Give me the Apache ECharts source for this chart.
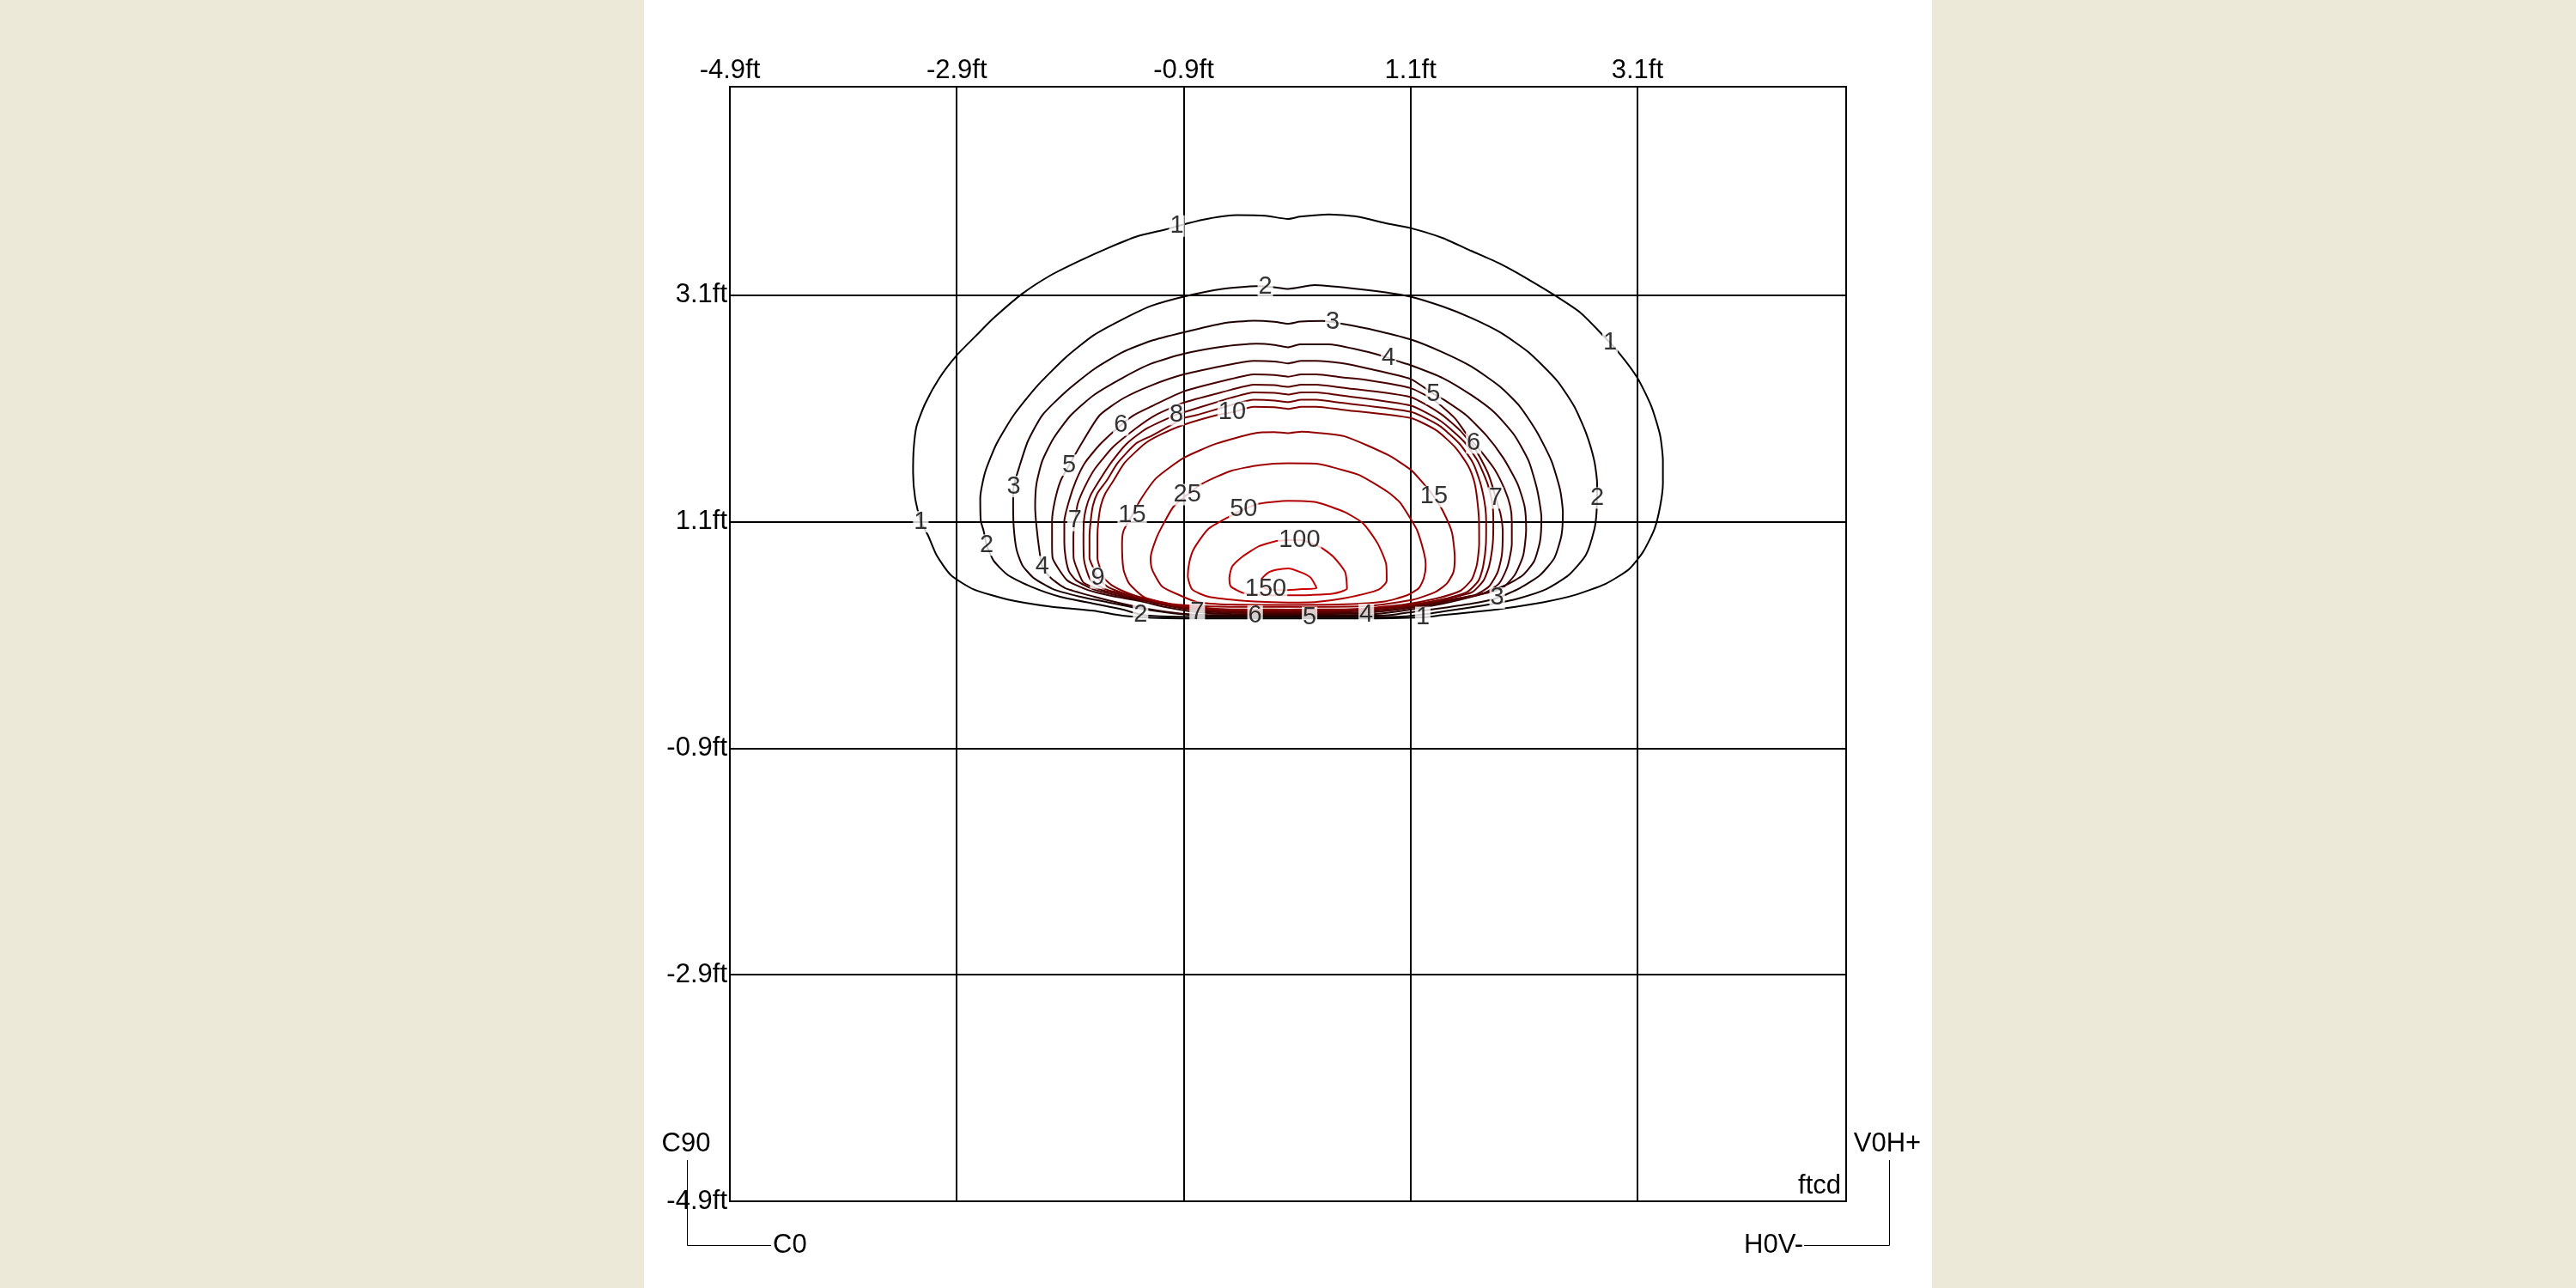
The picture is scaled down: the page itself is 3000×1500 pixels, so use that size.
<!DOCTYPE html>
<html><head><meta charset="utf-8">
<script src="https://cdn.jsdelivr.net/npm/echarts@6/dist/echarts.min.js"></script>
<style>
html,body{margin:0;padding:0;background:#ECE9D8;}
#panel{position:absolute;left:750px;top:0;width:1500px;height:1500px;background:#fff;}
#c{position:absolute;left:0;top:0;width:3000px;height:1500px;}
</style>
</head><body><div id="panel"></div><div id="c"></div>
<script>
// axis: feet, range -4.92 .. 4.92 ft, grid every 2 ft starting at -4.92
const OFFSET = 4.92;
const AXIS_SPAN = 9.84;
const TICK_STEP = 2;

// contour levels (ftcd)
const levels = [1, 2, 3, 4, 5, 6, 7, 8, 9, 10, 15, 25, 50, 100, 150];

// contour polylines, [x ft, y ft]
const c1 = [[0,0.225],[-0.6,0.225],[-1.2,0.232],[-1.461,0.25],[-1.713,0.293],[-2.091,0.33],[-2.469,0.393],[-2.771,0.482],[-2.972,0.608],[-3.098,0.784],[-3.174,0.961],[-3.237,1.079],[-3.287,1.289],[-3.305,1.516],[-3.3,1.718],[-3.275,1.919],[-3.199,2.121],[-3.073,2.348],[-2.919,2.55],[-2.746,2.726],[-2.594,2.878],[-2.343,3.092],[-2.091,3.256],[-1.839,3.382],[-1.587,3.496],[-1.335,3.597],[-1.08,3.66],[-0.88,3.715],[-0.705,3.755],[-0.45,3.786],[-0.2,3.781],[0,3.753],[0.106,3.773],[0.358,3.793],[0.61,3.773],[0.861,3.715],[1.08,3.672],[1.365,3.584],[1.617,3.47],[1.869,3.357],[2.121,3.218],[2.348,3.08],[2.574,2.928],[2.751,2.752],[2.914,2.575],[3.081,2.348],[3.204,2.096],[3.28,1.844],[3.305,1.617],[3.305,1.415],[3.28,1.213],[3.229,1.011],[3.128,0.81],[3.003,0.658],[2.801,0.532],[2.524,0.431],[2.247,0.368],[1.894,0.313],[1.617,0.28],[1.365,0.255],[1.189,0.235],[0.6,0.225],[0,0.225]];
const c2 = [[0,0.236],[-0.6,0.236],[-1.05,0.242],[-1.285,0.258],[-1.461,0.305],[-1.713,0.356],[-2.015,0.419],[-2.267,0.507],[-2.469,0.608],[-2.594,0.734],[-2.657,0.873],[-2.683,0.999],[-2.708,1.087],[-2.713,1.289],[-2.67,1.516],[-2.569,1.768],[-2.418,2.02],[-2.217,2.272],[-1.965,2.525],[-1.713,2.726],[-1.461,2.865],[-1.209,2.984],[-0.919,3.067],[-0.579,3.135],[-0.277,3.16],[-0.126,3.15],[0,3.135],[0.232,3.168],[0.61,3.135],[0.861,3.105],[1.08,3.067],[1.365,2.979],[1.617,2.878],[1.869,2.752],[2.121,2.575],[2.373,2.323],[2.524,2.096],[2.625,1.869],[2.7,1.617],[2.725,1.415],[2.72,1.163],[2.7,1.011],[2.625,0.784],[2.474,0.608],[2.272,0.482],[2.045,0.406],[1.819,0.356],[1.491,0.305],[1.239,0.267],[1.0,0.242],[0.6,0.236],[0,0.236]];
const c3 = [[0,0.245],[-0.6,0.246],[-0.856,0.255],[-1.083,0.28],[-1.335,0.318],[-1.587,0.368],[-1.839,0.419],[-2.066,0.482],[-2.242,0.583],[-2.342,0.696],[-2.393,0.835],[-2.418,1.037],[-2.423,1.238],[-2.418,1.39],[-2.368,1.566],[-2.292,1.793],[-2.166,2.02],[-1.965,2.222],[-1.713,2.424],[-1.461,2.575],[-1.209,2.676],[-0.919,2.752],[-0.579,2.83],[-0.3,2.855],[-0.12,2.845],[0,2.827],[0.106,2.847],[0.307,2.852],[0.471,2.827],[0.736,2.777],[1.08,2.689],[1.365,2.575],[1.617,2.449],[1.869,2.272],[2.045,2.096],[2.196,1.869],[2.322,1.617],[2.398,1.364],[2.423,1.163],[2.411,0.961],[2.348,0.759],[2.222,0.608],[2.045,0.494],[1.844,0.406],[1.617,0.356],[1.365,0.318],[1.113,0.285],[0.9,0.255],[0.6,0.246],[0,0.245]];
const c4 = [[0,0.255],[-0.7,0.256],[-0.957,0.27],[-1.209,0.305],[-1.461,0.356],[-1.713,0.419],[-1.965,0.494],[-2.091,0.583],[-2.166,0.683],[-2.191,0.822],[-2.217,1.037],[-2.229,1.213],[-2.217,1.415],[-2.166,1.617],[-2.066,1.818],[-1.914,2.02],[-1.713,2.197],[-1.461,2.348],[-1.209,2.474],[-0.919,2.562],[-0.579,2.625],[-0.277,2.651],[-0.12,2.64],[0,2.62],[0.106,2.646],[0.358,2.646],[0.61,2.6],[0.824,2.545],[0.962,2.499],[1.08,2.462],[1.365,2.348],[1.617,2.197],[1.819,2.045],[1.995,1.844],[2.121,1.617],[2.196,1.364],[2.234,1.112],[2.222,0.91],[2.171,0.734],[2.071,0.608],[1.919,0.52],[1.668,0.431],[1.365,0.356],[0.987,0.29],[0.69,0.26],[0,0.255]];
const c5 = [[0,0.264],[-0.5,0.265],[-0.8,0.28],[-1.05,0.32],[-1.311,0.38],[-1.564,0.427],[-1.765,0.477],[-1.942,0.558],[-2.02,0.66],[-2.075,0.76],[-2.08,0.886],[-2.08,1.087],[-2.055,1.264],[-2.005,1.44],[-1.929,1.579],[-1.82,1.77],[-1.66,2.02],[-1.45,2.17],[-1.2,2.285],[-0.92,2.38],[-0.5,2.47],[-0.3,2.5],[-0.12,2.495],[0,2.478],[0.12,2.5],[0.25,2.5],[0.464,2.48],[0.715,2.43],[1.08,2.34],[1.282,2.209],[1.37,2.159],[1.57,2.02],[1.747,1.843],[1.898,1.642],[2.023,1.415],[2.086,1.213],[2.099,1.011],[2.074,0.785],[1.998,0.608],[1.872,0.482],[1.6,0.42],[1.3,0.36],[1.0,0.31],[0.7,0.275],[0.3,0.265],[0,0.264]];
const c6 = [[0,0.273],[-0.45,0.275],[-0.75,0.29],[-1.0,0.325],[-1.261,0.38],[-1.513,0.43],[-1.715,0.482],[-1.866,0.56],[-1.93,0.64],[-1.96,0.76],[-1.972,0.9],[-1.972,1.08],[-1.93,1.264],[-1.87,1.44],[-1.79,1.6],[-1.65,1.77],[-1.474,1.932],[-1.36,2.02],[-1.2,2.1],[-0.92,2.23],[-0.5,2.34],[-0.3,2.38],[-0.12,2.375],[0,2.36],[0.12,2.38],[0.25,2.38],[0.464,2.355],[0.715,2.328],[1.08,2.26],[1.294,2.147],[1.47,1.995],[1.571,1.856],[1.636,1.775],[1.709,1.692],[1.822,1.541],[1.91,1.365],[1.96,1.213],[1.973,1.08],[1.973,0.886],[1.935,0.684],[1.86,0.533],[1.722,0.445],[1.45,0.385],[1.15,0.33],[0.8,0.29],[0.4,0.274],[0,0.273]];
const c7 = [[0,0.282],[-0.4,0.284],[-0.7,0.295],[-1.0,0.33],[-1.25,0.385],[-1.45,0.43],[-1.62,0.47],[-1.8,0.54],[-1.848,0.634],[-1.89,0.76],[-1.892,0.95],[-1.878,1.09],[-1.853,1.239],[-1.79,1.39],[-1.7,1.55],[-1.538,1.743],[-1.337,1.907],[-1.17,2.02],[-0.92,2.13],[-0.63,2.21],[-0.5,2.245],[-0.3,2.29],[-0.12,2.285],[0,2.27],[0.12,2.29],[0.25,2.29],[0.464,2.265],[1.08,2.18],[1.345,2.033],[1.521,1.881],[1.659,1.705],[1.759,1.516],[1.8,1.4],[1.831,1.289],[1.873,1.151],[1.893,0.987],[1.885,0.785],[1.848,0.634],[1.772,0.508],[1.646,0.432],[1.35,0.38],[1.05,0.33],[0.7,0.295],[0.35,0.283],[0,0.282]];
const c8 = [[0,0.29],[-0.35,0.291],[-0.65,0.3],[-1.0,0.335],[-1.25,0.39],[-1.42,0.435],[-1.6,0.48],[-1.73,0.55],[-1.772,0.64],[-1.8,0.76],[-1.803,0.936],[-1.8,1.08],[-1.78,1.2],[-1.74,1.314],[-1.665,1.44],[-1.56,1.6],[-1.42,1.77],[-1.25,1.9],[-0.984,2.025],[-0.92,2.045],[-0.63,2.135],[-0.5,2.175],[-0.3,2.222],[-0.12,2.217],[0,2.203],[0.12,2.222],[0.25,2.222],[0.464,2.195],[1.08,2.105],[1.345,1.969],[1.546,1.793],[1.672,1.617],[1.759,1.415],[1.802,1.239],[1.81,1.08],[1.805,0.886],[1.772,0.684],[1.722,0.558],[1.621,0.457],[1.35,0.39],[1.05,0.335],[0.65,0.3],[0.3,0.291],[0,0.29]];
const c9 = [[0,0.297],[-0.3,0.298],[-0.6,0.303],[-1.0,0.34],[-1.25,0.395],[-1.42,0.44],[-1.58,0.5],[-1.677,0.583],[-1.72,0.68],[-1.75,0.76],[-1.75,0.95],[-1.74,1.08],[-1.72,1.22],[-1.68,1.33],[-1.6,1.44],[-1.5,1.6],[-1.34,1.77],[-1.2,1.84],[-1.0,1.95],[-0.92,1.995],[-0.81,2.02],[-0.5,2.11],[-0.3,2.156],[-0.12,2.15],[0,2.136],[0.12,2.156],[0.25,2.156],[0.464,2.13],[1.08,2.05],[1.33,1.93],[1.51,1.77],[1.63,1.6],[1.69,1.44],[1.72,1.32],[1.74,1.2],[1.747,1.08],[1.745,0.886],[1.72,0.684],[1.68,0.56],[1.58,0.46],[1.35,0.39],[1.03,0.34],[0.6,0.303],[0.3,0.298],[0,0.297]];
const c10 = [[0,0.304],[-0.25,0.305],[-0.55,0.307],[-1.0,0.345],[-1.25,0.4],[-1.4,0.445],[-1.54,0.51],[-1.62,0.58],[-1.66,0.68],[-1.68,0.76],[-1.68,0.95],[-1.672,1.08],[-1.65,1.22],[-1.61,1.33],[-1.54,1.44],[-1.44,1.6],[-1.26,1.77],[-1.12,1.85],[-0.92,1.935],[-0.63,2.02],[-0.492,2.046],[-0.3,2.095],[-0.12,2.09],[0,2.076],[0.12,2.095],[0.25,2.095],[0.464,2.07],[1.08,1.995],[1.31,1.885],[1.48,1.73],[1.59,1.57],[1.64,1.44],[1.665,1.3],[1.684,1.08],[1.685,0.886],[1.665,0.7],[1.62,0.57],[1.52,0.47],[1.3,0.4],[1.0,0.345],[0.55,0.307],[0.25,0.305],[0,0.304]];
const c15 = [[0,0.327],[-0.6,0.33],[-1.0,0.35],[-1.261,0.41],[-1.4,0.533],[-1.45,0.659],[-1.463,0.886],[-1.45,0.999],[-1.374,1.136],[-1.299,1.276],[-1.16,1.466],[-0.92,1.642],[-0.631,1.769],[-0.3,1.86],[-0.12,1.87],[0,1.862],[0.12,1.875],[0.252,1.865],[0.504,1.832],[0.883,1.668],[1.08,1.54],[1.173,1.441],[1.286,1.302],[1.365,1.175],[1.445,0.986],[1.47,0.76],[1.458,0.634],[1.4,0.533],[1.3,0.46],[1.1,0.39],[0.7,0.335],[0.3,0.328],[0,0.327]];
const c25 = [[0,0.345],[-0.5,0.348],[-0.8,0.37],[-0.959,0.432],[-1.11,0.508],[-1.198,0.659],[-1.211,0.76],[-1.16,0.936],[-1.084,1.087],[-1.009,1.213],[-0.888,1.319],[-0.757,1.415],[-0.504,1.528],[-0.252,1.579],[0,1.595],[0.252,1.592],[0.464,1.541],[0.631,1.491],[0.883,1.34],[0.987,1.25],[1.09,1.09],[1.14,1.0],[1.2,0.8],[1.214,0.7],[1.198,0.583],[1.155,0.495],[1.05,0.43],[0.85,0.375],[0.5,0.35],[0,0.345]];
const c50 = [[0,0.365],[-0.378,0.381],[-0.706,0.419],[-0.845,0.482],[-0.883,0.6],[-0.87,0.72],[-0.832,0.836],[-0.706,1.012],[-0.517,1.125],[-0.391,1.188],[-0.252,1.239],[0,1.264],[0.252,1.251],[0.504,1.163],[0.665,1.062],[0.791,0.886],[0.866,0.7],[0.87,0.56],[0.8,0.48],[0.504,0.405],[0.252,0.372],[0,0.365]];
const c100 = [[0,0.43],[-0.2,0.432],[-0.391,0.45],[-0.504,0.508],[-0.517,0.583],[-0.492,0.684],[-0.404,0.77],[-0.252,0.865],[-0.088,0.911],[0.101,0.92],[0.29,0.852],[0.404,0.766],[0.504,0.634],[0.52,0.49],[0.4,0.445],[0.2,0.433],[0,0.43]];
const c150 = [[-0.013,0.475],[-0.2,0.49],[-0.24,0.56],[-0.177,0.628],[-0.1,0.655],[0,0.668],[0.126,0.628],[0.202,0.583],[0.252,0.492],[0.126,0.485],[-0.013,0.475]];

const contours = [c1, c2, c3, c4, c5, c6, c7, c8, c9, c10, c15, c25, c50, c100, c150];

// contour labels: [level, x ft, y ft]
const contourLabels = [
  [1,-0.98,3.69],[1,-3.237,1.079],[1,2.839,2.663],[1,1.188,0.235],
  [2,-0.2,3.157],[2,-2.657,0.873],[2,2.725,1.289],[2,-1.3,0.26],
  [3,0.395,2.84],[3,-2.418,1.39],[3,1.844,0.406],
  [4,0.887,2.525],[4,-2.166,0.683],[4,0.69,0.26],
  [5,1.282,2.209],[5,-1.929,1.579],[5,0.19,0.235],
  [6,1.636,1.775],[6,-1.474,1.932],[6,-0.29,0.248],
  [7,1.831,1.289],[7,-1.878,1.09],[7,-0.8,0.28],
  [8,-0.984,2.025],
  [9,-1.677,0.583],
  [10,-0.492,2.046],
  [15,-1.374,1.136],[15,1.286,1.302],
  [25,-0.888,1.319],
  [50,-0.391,1.19],
  [100,0.101,0.915],
  [150,-0.197,0.482]
];

const FONT = '"Liberation Sans", Arial, sans-serif';

function levelColor(i) {
  const r = Math.round(i * 204 / (levels.length - 1));
  return 'rgb(' + r + ',0,0)';
}
function shift(p) { return [p[0] + OFFSET, p[1] + OFFSET]; }
function tickLabel(v) {
  if (v > AXIS_SPAN - 1) return '';
  return (v - OFFSET).toFixed(1) + 'ft';
}

const series = contours.map((pts, i) => ({
  type: 'line',
  name: String(levels[i]),
  data: pts.map(shift),
  symbol: 'none',
  showSymbol: false,
  smooth: 0.2,
  silent: true,
  z: 2,
  lineStyle: { color: levelColor(i), width: 2 }
}));

series.push({
  type: 'scatter',
  silent: true,
  z: 5,
  symbol: 'circle',
  symbolSize: 1,
  itemStyle: { color: 'rgba(0,0,0,0)' },
  data: contourLabels.map(l => [l[1] + OFFSET, l[2] + OFFSET, l[0]]),
  label: {
    show: true,
    position: 'inside',
    formatter: p => String(p.value[2]),
    fontSize: 29,
    fontFamily: FONT,
    color: '#000',
    backgroundColor: '#fff',
    padding: [0, 1],
    lineHeight: 25
  }
});

const axisCommon = {
  type: 'value',
  min: 0,
  max: AXIS_SPAN,
  interval: TICK_STEP,
  axisLine: { show: false },
  axisTick: { show: false },
  splitLine: { show: true, lineStyle: { color: '#000', width: 2 } },
  axisLabel: { margin: 3, fontSize: 31, fontFamily: FONT, color: '#000', formatter: tickLabel, showMinLabel: true }
};

const txt = (text, x, y, align, valign) => ({
  type: 'text', x: x, y: y, z: 100,
  style: { text: text, fontSize: 31, fontFamily: FONT, fill: '#000',
           textAlign: align, align: align, textVerticalAlign: valign, verticalAlign: valign }
});

const chart = echarts.init(document.getElementById('c'), null, { renderer: 'canvas' });
chart.setOption({
  animation: false,
  backgroundColor: 'transparent',
  grid: { left: 850, top: 101, width: 1300, height: 1298, show: true, borderColor: '#000', borderWidth: 2, backgroundColor: 'transparent' },
  xAxis: Object.assign({}, axisCommon, { position: 'top' }),
  yAxis: Object.assign({}, axisCommon, { position: 'left' }),
  series: series,
  graphic: [
    txt('C90', 799, 1332, 'center', 'middle'),
    txt('C0', 900, 1450, 'left', 'middle'),
    txt('V0H+', 2198, 1332, 'center', 'middle'),
    txt('H0V-', 2100, 1450, 'right', 'middle'),
    txt('ftcd', 2144, 1381, 'right', 'middle'),
    { type: 'polyline', z: 100, shape: { points: [[800.5, 1351], [800.5, 1450.5], [898, 1450.5]] }, style: { stroke: '#000', lineWidth: 1, fill: null } },
    { type: 'polyline', z: 100, shape: { points: [[2101, 1450.5], [2200.5, 1450.5], [2200.5, 1351]] }, style: { stroke: '#000', lineWidth: 1, fill: null } }
  ]
});
</script>
</body></html>
